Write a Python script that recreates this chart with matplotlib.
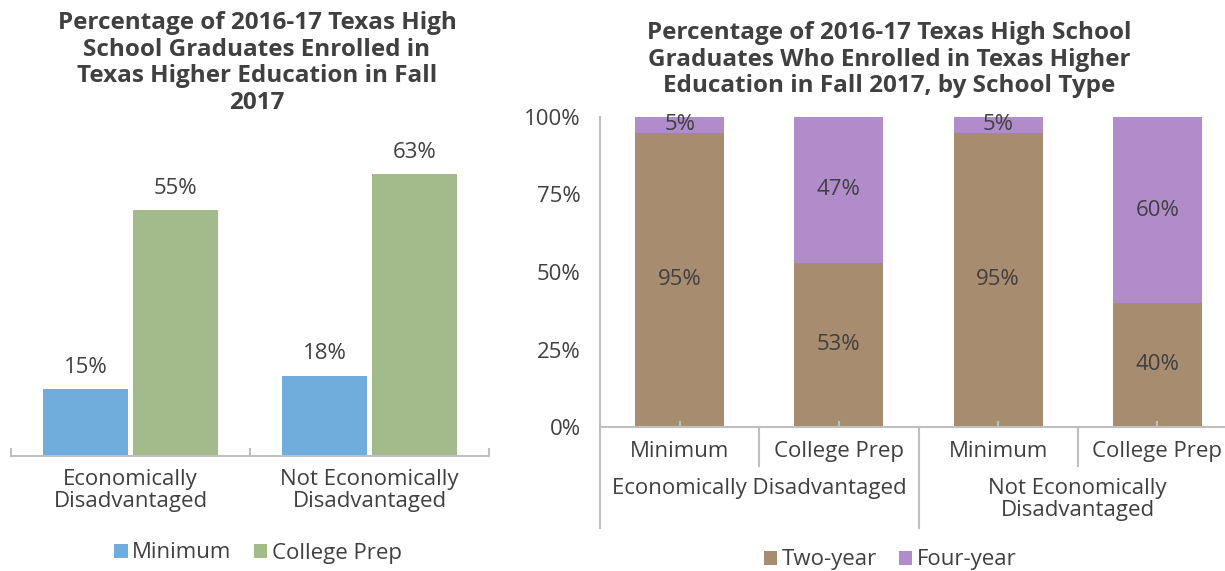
import numpy as np
import matplotlib.pyplot as plt
import matplotlib.transforms as mtransforms

# dados
groups = ["Economically\nDisadvantaged", "Not Economically\nDisadvantaged"]
minimum = [15, 18]
college_prep = [55, 63]

school_types = ["Minimum", "College Prep", "Minimum", "College Prep"]
group_labels_r = ["Economically Disadvantaged", "Not Economically\nDisadvantaged"]
two_year = [95, 53, 95, 40]
four_year = [5, 47, 5, 60]

# cores
c_blue = "#70ADDC"
c_green = "#A3BB8B"
c_brown = "#A88C6F"
c_purple = "#B08CCB"
c_axis = "#BFBFBF"
c_text = "#404040"

plt.rcParams['font.family'] = ['Open Sans', 'DejaVu Sans']
plt.rcParams['text.color'] = c_text
FS = 16      # texto normal
FT = 17.5    # titulos
LS = 1.08

W, H = 1225, 571
fig = plt.figure(figsize=(W / 100, H / 100), dpi=100)

# ---------- grafico da esquerda ----------
ax1 = fig.add_axes([11 / W, (H - 456) / H, (489 - 11) / W, (456 - 143) / H])
x = np.arange(len(groups))
bw = 0.354
off = 0.1875
b1 = ax1.bar(x - off, minimum, bw, color=c_blue, label="Minimum")
b2 = ax1.bar(x + off, college_prep, bw, color=c_green, label="College Prep")
for bars in (b1, b2):
    for b in bars:
        ax1.annotate(f"{b.get_height():.0f}%", (b.get_x() + b.get_width() / 2, b.get_height()),
                     xytext=(0, 8), textcoords="offset points", ha="center", va="bottom",
                     fontsize=FS, color=c_text)
ax1.set_xlim(-0.5, 1.5)
ax1.set_ylim(0, 70)
for s in ("top", "right", "left"):
    ax1.spines[s].set_visible(False)
ax1.spines["bottom"].set_color(c_axis)
ax1.spines["bottom"].set_linewidth(1.5)
ax1.set_yticks([])
ax1.set_xticks([-0.5, 0.5, 1.5])
ax1.set_xticklabels([])
ax1.tick_params(axis="x", which="major", direction="in", length=6, width=1.5, color=c_axis)
ax1.set_xticks(x, minor=True)
ax1.set_xticklabels(groups, minor=True, fontsize=FS, color=c_text, linespacing=LS)
ax1.tick_params(axis="x", which="minor", length=0, pad=9)
fig.text(257 / W, 1 - 11 / H,
         "Percentage of 2016-17 Texas High\nSchool Graduates Enrolled in\nTexas Higher Education in Fall\n2017",
         ha="center", va="top", fontsize=FT, fontweight="bold", color=c_text, linespacing=1.14)
fig.legend(handles=[b1, b2], loc="center", bbox_to_anchor=(258 / W, 1 - 553 / H), ncol=2,
           frameon=False, fontsize=FS, handlelength=0.6, handleheight=0.6,
           handletextpad=0.2, columnspacing=1.0)

# ---------- grafico da direita ----------
ax2 = fig.add_axes([600 / W, (H - 427) / H, (1237 - 600) / W, (427 - 117) / H])
xr = np.arange(len(school_types))
bwr = 0.56
r1 = ax2.bar(xr, two_year, bwr, color=c_brown, label="Two-year")
r2 = ax2.bar(xr, four_year, bwr, bottom=two_year, color=c_purple, label="Four-year")
for bars, bottoms in ((r1, [0] * 4), (r2, two_year)):
    for b, bot in zip(bars, bottoms):
        h = b.get_height()
        ax2.text(b.get_x() + b.get_width() / 2, bot + h / 2, f"{h:.0f}%",
                 ha="center", va="center", fontsize=FS, color=c_text)
ax2.set_xlim(-0.5, 3.5)
ax2.set_ylim(0, 100)
for s in ("top", "right"):
    ax2.spines[s].set_visible(False)
for s in ("left", "bottom"):
    ax2.spines[s].set_color(c_axis)
    ax2.spines[s].set_linewidth(1.5)
ax2.set_yticks([0, 25, 50, 75, 100])
ax2.set_yticklabels([f"{v}%" for v in [0, 25, 50, 75, 100]], fontsize=FS, color=c_text)
ax2.tick_params(axis="y", length=0, pad=14)
ax2.set_xticks(xr)
ax2.set_xticklabels(school_types, fontsize=FS, color=c_text)
ax2.tick_params(axis="x", direction="in", length=4, width=1.5, color=c_axis, pad=10)

# linhas separadoras das categorias
trans = mtransforms.blended_transform_factory(ax2.transData, ax2.transAxes)
for xs, y0 in ((-0.5, -0.325), (0.5, -0.125), (1.5, -0.325), (2.5, -0.125), (3.5, -0.325)):
    ax2.plot([xs, xs], [0, y0], transform=trans, color=c_axis, lw=1.5, clip_on=False)
for gx, lab in zip([0.5, 2.5], group_labels_r):
    ax2.text(gx, -0.165, lab, transform=trans, ha="center", va="top", fontsize=FS,
             color=c_text, linespacing=LS)

fig.text(889 / W, 1 - 21 / H,
         "Percentage of 2016-17 Texas High School\nGraduates Who Enrolled in Texas Higher\nEducation in Fall 2017, by School Type",
         ha="center", va="top", fontsize=FT, fontweight="bold", color=c_text, linespacing=1.14)
fig.legend(handles=[r1, r2], loc="center", bbox_to_anchor=(890 / W, 1 - 560 / H), ncol=2,
           frameon=False, fontsize=FS, handlelength=0.6, handleheight=0.6,
           handletextpad=0.2, columnspacing=1.0)

fig.savefig("out.png", dpi=100)
